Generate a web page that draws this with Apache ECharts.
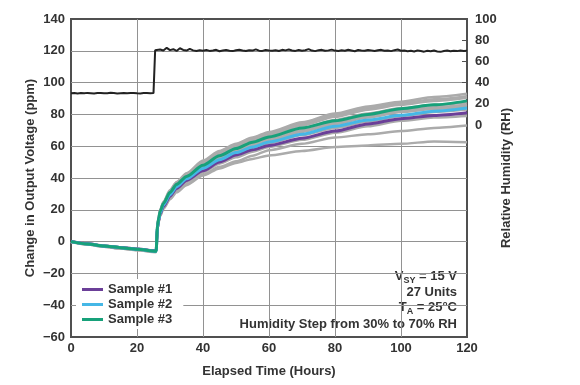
<!DOCTYPE html>
<html>
<head>
<meta charset="utf-8">
<script src="https://cdn.jsdelivr.net/npm/echarts@6/dist/echarts.min.js"></script>
<style>html,body{margin:0;padding:0;background:#fff}#c{width:580px;height:385px}</style>
</head>
<body>
<div id="c"></div>
<script>
// Elapsed time (hours) at which curve values were read
const hours = [0,5,10,15,20,25.8,26.2,26.6,27,28,30,32,35,40,45,50,55,60,70,80,90,100,110,120];

// Highlighted samples (ppm)
const sample1 = [0,-1.4,-2.7,-3.7,-4.7,-5.8, 8.5,13.5,17.5,22,28.5,33.5,38.5,44.5,50,54.5,57.8,60.5,65,69.5,74,77.3,79.3,81];
const sample2 = [0,-1.5,-2.8,-3.8,-4.8,-6, 9,14,18,23,29.5,34.5,39.5,46,51.5,56,59.5,62.6,67.5,72.5,76.5,79.4,82,84];
const sample3 = [0,-1.5,-2.8,-3.8,-4.8,-6, 10,15,19,24,31,36,41,48,54,58.5,62.5,65.8,71.5,76,80,83.6,86,88.5];

// Other units (gray, ppm)
const grayA = [0.3,-1.2,-2.5,-3.5,-4.5,-5.6, 10.5,16,20,25,32.5,37.5,43,51,57,61.5,65.5,69,75,80.5,85,88,91,93];
const grayB = [0.2,-1.3,-2.6,-3.6,-4.6,-5.8, 10.5,15.5,19.5,24.5,32,37,42.5,50,56,60.5,64.5,68,74,79.5,84,87,89.5,91.5];
const grayC = [0.1,-1.4,-2.7,-3.7,-4.7,-5.9, 10,15.5,19.5,24.5,31.5,36.5,42,49.5,55,59.5,63.5,67,73,78.5,83,86,88.5,90.5];
const grayD = [0,-1.5,-2.8,-3.8,-4.8,-6, 10,15,19,24,31,36,41,48.5,54,58.5,62.5,66,71.5,76.5,80.5,84,86,87.5];
const grayE = [0,-1.5,-2.9,-3.9,-4.9,-6.1, 10,15,19,23.5,30.5,35.5,40.5,47.5,53,57.5,61.5,64.5,70,75,79,82.5,84.5,86];
const grayF = [-0.1,-1.6,-3,-4,-5,-6.2, 9.5,14.5,18.5,23,30,35,40,47,52.5,57,60.5,63.5,69,74,78,81.5,83.5,85];
const grayG = [-0.1,-1.6,-3,-4.1,-5.1,-6.3, 9,14,18,22.5,29,34,39,45.5,51,55.5,59,62,67,71.5,75.5,79,81.5,83];
const grayH = [-0.2,-1.7,-3.1,-4.2,-5.2,-6.4, 8.5,13,17,21.5,28,32.5,37.5,43.5,49,53,56.5,59.5,64,68.5,72.5,76,78,79];
const grayI = [-0.2,-1.8,-3.2,-4.3,-5.3,-6.5, 8,12.5,16.5,21,27,31.5,36,42,47,50.5,54,57.5,61.5,65.5,67.5,69.5,71.5,73];
const grayJ = [-0.3,-1.8,-3.3,-4.4,-5.4,-6.6, 8,12.5,16,20.5,26.5,31,35.5,41.5,46,49.5,52,54.2,57,59.5,60.5,61.5,63,62.5];

// Relative humidity (%RH), hourly
const stepHour = 25.5;
const rhBefore = [30.0,30.2,29.8,30.1,29.9,30.3,30.0,29.7,30.1,30.2,29.9,30.0,30.4,30.1,29.8,30.0,30.2,29.9,30.1,30.3,30.0,29.8,30.1,30.2,30.0,30.1]; // t=0..25
const rhAfter = [70.5,71.2,70.3,72.8,70.6,71.5,69.9,72.4,70.8,70.2,71.9,70.4,69.8,70.6,70.1,
 70.7,69.9,70.3,70.9,69.6,70.2,70.8,70.0,69.7,70.5,71.0,70.3,69.8,70.6,70.2,71.4,70.1,69.9,70.7,70.3,
 70.0,70.6,69.8,70.9,70.4,71.2,70.3,69.9,70.8,70.1,70.5,71.6,70.2,69.7,70.6,70.9,70.0,70.4,71.1,70.2,
 69.9,70.5,70.1,71.0,70.3,69.6,70.7,70.2,70.0,70.8,70.4,69.8,70.5,70.9,70.1,70.3,69.7,70.6,71.2,70.0,
 70.2,69.5,70.0,69.3,70.4,69.8,69.2,70.1,69.6,70.3,69.4,69.0,69.8,70.2,69.5,70.0,69.7,70.3,69.9,70.1]; // t=26..120

// Axis ticks
const xTicks = {min: 0, max: 120, interval: 20};
const yLeftTicks = {min: -60, max: 140, interval: 20};
const yRightLabels = [0, 20, 40, 60, 80, 100];
const yRightTickMarks = [20, 40, 60, 80];

const FONT = "'Liberation Sans', Arial, Helvetica, sans-serif";
const TXT = '#333';

function pairs(vals) { return hours.map((h, i) => [h, vals[i]]); }

const rhData = [];
rhBefore.forEach((v, i) => rhData.push([i, v]));
rhData.push([stepHour, rhBefore[rhBefore.length - 1]]);
rhData.push([stepHour, rhAfter[0]]);
rhAfter.forEach((v, i) => rhData.push([26 + i, v]));

const grays = [grayA, grayB, grayC, grayD, grayE, grayF, grayG, grayH, grayI, grayJ];
const series = [];
grays.forEach((g, i) => series.push({
  name: 'unit' + i, type: 'line', data: pairs(g), symbol: 'none', smooth: 0.25, smoothMonotone: 'x',
  lineStyle: {color: '#ababab', width: 2.5}, itemStyle: {color: '#ababab'}, silent: true, z: 2
}));
const samples = [
  ['Sample #1', sample1, '#6b3f98'],
  ['Sample #2', sample2, '#45b7e6'],
  ['Sample #3', sample3, '#17a17a']
];
samples.forEach(s => series.push({
  name: s[0], type: 'line', data: pairs(s[1]), symbol: 'none', smooth: 0.25, smoothMonotone: 'x',
  lineStyle: {color: s[2], width: 3}, itemStyle: {color: s[2]}, z: 3
}));
series.push({
  name: 'RH', type: 'line', yAxisIndex: 1, data: rhData, symbol: 'none',
  lineStyle: {color: '#222', width: 2}, itemStyle: {color: '#222'}, z: 4
});

const chart = echarts.init(document.getElementById('c'), null, {renderer: 'canvas'});
const labelStyle = {color: TXT, fontFamily: FONT, fontWeight: 'bold', fontSize: 13};
const nameStyle = {color: TXT, fontFamily: FONT, fontWeight: 'bold', fontSize: 13};
const split = {show: true, showMinLine: false, showMaxLine: false, lineStyle: {color: '#929292', width: 1}};

chart.setOption({
  animation: false,
  backgroundColor: '#fff',
  grid: {left: 71, right: 113, top: 19, bottom: 48, show: true, borderColor: '#505050', borderWidth: 2, backgroundColor: 'transparent'},
  xAxis: {
    type: 'value', min: xTicks.min, max: xTicks.max, interval: xTicks.interval,
    name: 'Elapsed Time (Hours)', nameLocation: 'middle', nameGap: 28, nameMoveOverlap: false, nameTextStyle: nameStyle,
    axisLine: {show: false}, axisTick: {show: false},
    axisLabel: Object.assign({margin: 5}, labelStyle),
    splitLine: split
  },
  yAxis: [{
    type: 'value', min: yLeftTicks.min, max: yLeftTicks.max, interval: yLeftTicks.interval,
    name: 'Change in Output Voltage (ppm)', nameLocation: 'middle', nameGap: 34, nameRotate: 90, nameMoveOverlap: false, nameTextStyle: nameStyle,
    axisLine: {show: false}, axisTick: {show: false},
    axisLabel: Object.assign({margin: 6, formatter: v => (v < 0 ? '\u2212' + (-v) : '' + v)}, labelStyle),
    splitLine: split
  }, {
    type: 'value', min: -200, max: 100, interval: 20, position: 'right',
    name: 'Relative Humidity (RH)', nameLocation: 'middle', nameGap: 33, nameRotate: 90, nameMoveOverlap: false, nameTextStyle: nameStyle,
    axisLine: {show: false},
    axisTick: {show: true, inside: true, length: 5, customValues: yRightTickMarks, lineStyle: {color: '#505050', width: 1}},
    axisLabel: Object.assign({margin: 8, customValues: yRightLabels, formatter: v => (v >= 0 ? '' + v : '')}, labelStyle),
    splitLine: {show: false}
  }],
  legend: {
    data: ['Sample #1', 'Sample #2', 'Sample #3'],
    orient: 'vertical', left: 76, top: 279,
    padding: [4, 11, 3, 6], itemGap: 2, itemWidth: 21, itemHeight: 3, icon: 'rect',
    backgroundColor: '#fff', selectedMode: false,
    textStyle: {color: TXT, fontFamily: FONT, fontWeight: 'bold', fontSize: 13}
  },
  graphic: [{
    type: 'group', z: 10, children: [
      {type: 'rect', shape: {x: 226, y: 266, width: 236, height: 66}, style: {fill: '#fff'}},
      {type: 'text', x: 457, y: 276, style: {
        text: '{b|V}{s|SY}{b| = 15 V}', align: 'right', verticalAlign: 'middle',
        rich: {
          b: {fontFamily: FONT, fontWeight: 'bold', fontSize: 13, fill: TXT, lineHeight: 18, verticalAlign: 'middle'},
          s: {fontFamily: FONT, fontWeight: 'bold', fontSize: 9, fill: TXT, lineHeight: 10, verticalAlign: 'bottom'}
        }}},
      {type: 'text', x: 457, y: 292, style: {text: '27 Units', align: 'right', verticalAlign: 'middle', fontFamily: FONT, fontWeight: 'bold', fontSize: 13, fill: TXT}},
      {type: 'text', x: 457, y: 307, style: {
        text: '{b|T}{s|A}{b| = 25\u00b0C}', align: 'right', verticalAlign: 'middle',
        rich: {
          b: {fontFamily: FONT, fontWeight: 'bold', fontSize: 13, fill: TXT, lineHeight: 18, verticalAlign: 'middle'},
          s: {fontFamily: FONT, fontWeight: 'bold', fontSize: 9, fill: TXT, lineHeight: 10, verticalAlign: 'bottom'}
        }}},
      {type: 'text', x: 457, y: 324, style: {text: 'Humidity Step from 30% to 70% RH', align: 'right', verticalAlign: 'middle', fontFamily: FONT, fontWeight: 'bold', fontSize: 13, fill: TXT}}
    ]
  }],
  series: series
});
</script>
</body>
</html>
